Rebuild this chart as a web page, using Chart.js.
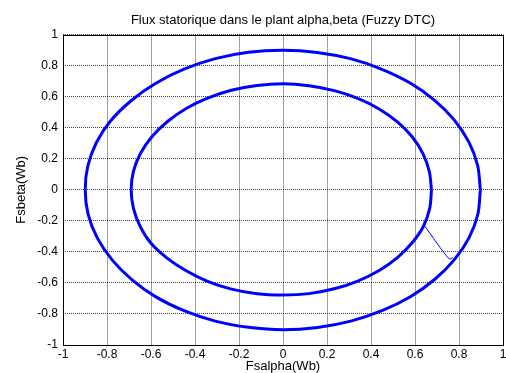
<!DOCTYPE html>
<html>
<head>
<meta charset="utf-8">
<script src="https://cdn.jsdelivr.net/npm/chart.js@4"></script>
<style>
  html, body { margin: 0; padding: 0; background: #fff; }
  canvas { display: block; }
</style>
</head>
<body>
<canvas id="flux" width="506" height="373"></canvas>
<script>
// Stator flux locus in the alpha-beta plane (Fuzzy DTC)
// steady-state outer loop, read every 10 degrees
const outerAlpha = [0.897, 0.885, 0.845, 0.777, 0.688, 0.578, 0.447, 0.306, 0.155, 0.0,
  -0.157, -0.308, -0.45, -0.578, -0.688, -0.785, -0.848, -0.887, -0.899,
  -0.886, -0.845, -0.775, -0.686, -0.578, -0.45, -0.308, -0.157, 0.0,
  0.157, 0.308, 0.45, 0.579, 0.689, 0.779, 0.846, 0.886, 0.897];
const outerBeta = [0.0, 0.155, 0.307, 0.452, 0.578, 0.688, 0.778, 0.845, 0.885, 0.899,
  0.886, 0.845, 0.777, 0.687, 0.577, 0.442, 0.305, 0.155, 0.0,
  -0.157, -0.308, -0.455, -0.58, -0.69, -0.779, -0.846, -0.886, -0.902,
  -0.887, -0.846, -0.779, -0.689, -0.578, -0.45, -0.308, -0.156, 0.0];

// first loop at the lower flux reference
const innerAlpha = [0.675, 0.665, 0.636, 0.588, 0.52, 0.437, 0.34, 0.233, 0.118, 0.005,
  -0.118, -0.235, -0.343, -0.44, -0.525, -0.596, -0.648, -0.68, -0.69,
  -0.68, -0.65, -0.6, -0.527, -0.44, -0.343, -0.234, -0.118, 0.0,
  0.118, 0.233, 0.34, 0.437, 0.52, 0.588, 0.639, 0.667, 0.675];
const innerBeta = [0.0, 0.118, 0.233, 0.34, 0.437, 0.521, 0.589, 0.639, 0.67, 0.683,
  0.672, 0.641, 0.59, 0.524, 0.44, 0.342, 0.234, 0.118, 0.0,
  -0.118, -0.234, -0.345, -0.44, -0.522, -0.59, -0.64, -0.67, -0.678,
  -0.669, -0.638, -0.588, -0.52, -0.437, -0.34, -0.233, -0.118, 0.0];

// jump between the two references
const stepAlpha = [0.645, 0.755, 0.772];
const stepBeta = [-0.235, -0.445, -0.437];

const xTickValues = [-1, -0.8, -0.6, -0.4, -0.2, 0, 0.2, 0.4, 0.6, 0.8, 1];
const xTickLabels = ['-1', '-0.8', '-0.6', '-0.4', '-0.2', '0', '0.2', '0.4', '0.6', '0.8', '1'];
const yTickValues = [-1, -0.8, -0.6, -0.4, -0.2, 0, 0.2, 0.4, 0.6, 0.8, 1];
const yTickLabels = ['-1', '-0.8', '-0.6', '-0.4', '-0.2', '0', '0.2', '0.4', '0.6', '0.8', '1'];

const FONT = 'Liberation Sans, Arial, sans-serif';

function toPoints(xs, ys) {
  return xs.map((x, i) => ({ x: x, y: ys[i] }));
}

// black box round the plot area
const boxPlugin = {
  id: 'box',
  beforeDatasetsDraw(chart) {
    const a = chart.chartArea;
    const ctx = chart.ctx;
    ctx.save();
    ctx.strokeStyle = '#000';
    ctx.lineWidth = 1;
    ctx.strokeRect(Math.round(a.left) + 0.5, Math.round(a.top) + 0.5,
      Math.round(a.right - a.left), Math.round(a.bottom - a.top));
    ctx.restore();
  }
};

const gridStyle = { color: 'rgba(0,0,0,0.75)', lineWidth: 1, drawTicks: false };

new Chart(document.getElementById('flux'), {
  type: 'scatter',
  data: {
    datasets: [
      { data: toPoints(innerAlpha, innerBeta), borderWidth: 3 },
      { data: toPoints(stepAlpha, stepBeta), borderWidth: 1 },
      { data: toPoints(outerAlpha, outerBeta), borderWidth: 3 }
    ].map(d => Object.assign(d, {
      showLine: true,
      borderColor: '#0000ff',
      pointRadius: 0,
      tension: 0.3,
      fill: false
    }))
  },
  options: {
    responsive: false,
    animation: false,
    layout: { padding: { left: 0, right: 3, top: 0, bottom: 0 } },
    plugins: {
      legend: { display: false },
      tooltip: { enabled: false },
      title: {
        display: true,
        fullSize: false,
        text: 'Flux statorique dans le plant alpha,beta (Fuzzy DTC)',
        color: '#000',
        font: { family: FONT, size: 13, weight: 'normal' },
        padding: { top: 13, bottom: 6 }
      }
    },
    scales: {
      x: {
        type: 'linear',
        min: -1,
        max: 1,
        afterBuildTicks: s => { s.ticks = xTickValues.map(v => ({ value: v })); },
        afterFit: s => { s.height = 28; s.paddingRight = 0; },
        ticks: {
          color: '#000',
          padding: 2,
          maxRotation: 0,
          autoSkip: false,
          font: { family: FONT, size: 12 },
          callback: (v, i) => xTickLabels[i]
        },
        grid: gridStyle,
        border: { display: false, dash: [1, 1] },
        title: {
          display: true,
          text: 'Fsalpha(Wb)',
          color: '#000',
          font: { family: FONT, size: 13, lineHeight: 1 },
          padding: { top: 0, bottom: 0 }
        }
      },
      y: {
        type: 'linear',
        min: -1,
        max: 1,
        afterBuildTicks: s => { s.ticks = yTickValues.map(v => ({ value: v })); },
        afterFit: s => { s.width = 63; },
        ticks: {
          color: '#000',
          padding: 5,
          autoSkip: false,
          font: { family: FONT, size: 12 },
          callback: (v, i) => yTickLabels[i]
        },
        grid: gridStyle,
        border: { display: false, dash: [1, 1] },
        title: {
          display: true,
          text: 'Fsbeta(Wb)',
          color: '#000',
          font: { family: FONT, size: 13 },
          padding: { top: 14, bottom: 0 }
        }
      }
    }
  },
  plugins: [boxPlugin]
});
</script>
</body>
</html>
